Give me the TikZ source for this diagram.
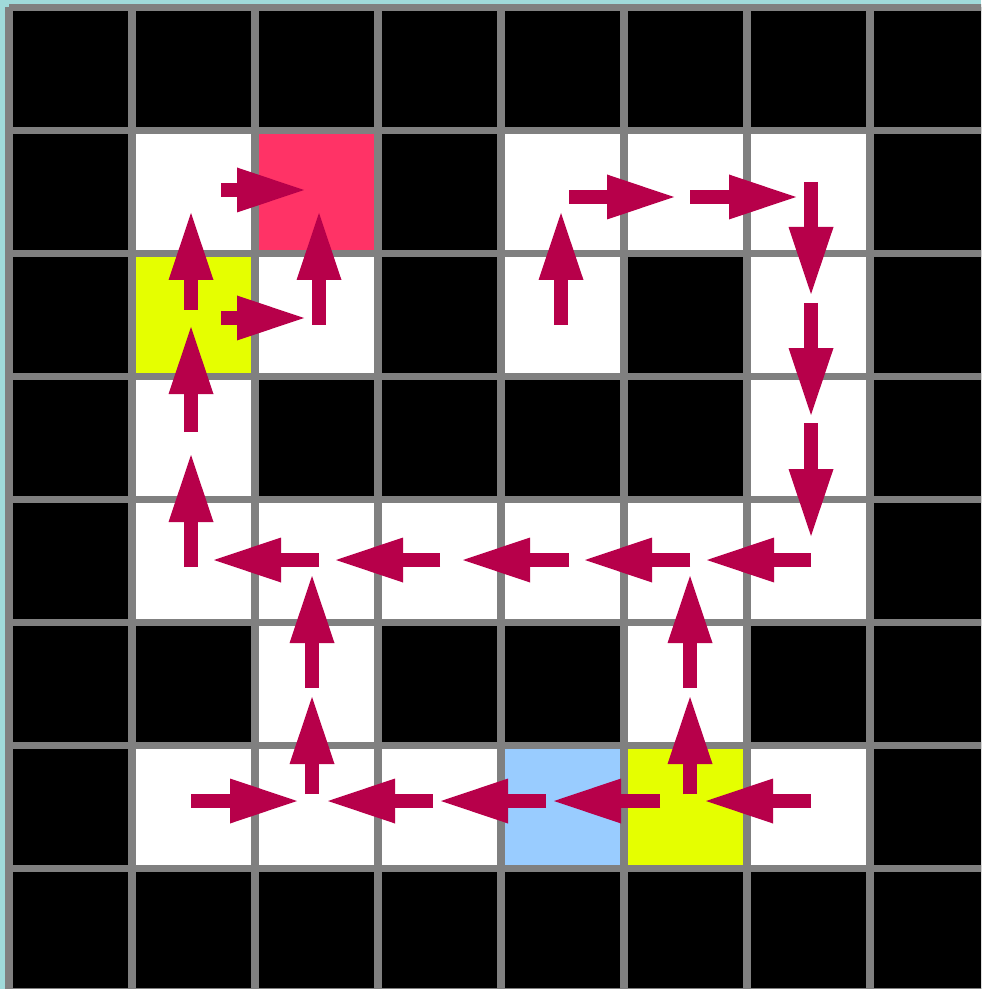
\documentclass[tikz,border=0pt]{standalone}
\usepackage{tikz}
\usetikzlibrary{arrows.meta}
\definecolor{bgteal}{RGB}{160,218,218}
\definecolor{gridgray}{RGB}{128,128,128}
\definecolor{goalred}{RGB}{255,51,102}
\definecolor{keyyellow}{RGB}{229,255,0}
\definecolor{startblue}{RGB}{153,204,255}
\definecolor{policy}{RGB}{183,0,74}

\begin{document}
\begin{tikzpicture}[x=0.5pt,y=-0.5pt,
  pol/.style={policy,line width=7pt,
    -{Triangle[length=33.5pt,width=22.5pt,line width=0pt]}}]
  % Canvas
  \useasboundingbox (0,0) rectangle (981,989);
  \clip (0,0) rectangle (981,989);
  \fill[bgteal] (0,0) rectangle (981,989);

  % Cells and grid
  \begin{scope}[shift={(9,7.5)},x=61.5pt,y=-61.5pt]
    \fill[black] (0,0) rectangle (8,8);
    \foreach \c/\r in {1/1,4/1,5/1,6/1,2/2,4/2,6/2,1/3,6/3,
                       1/4,2/4,3/4,4/4,5/4,6/4,2/5,5/5,1/6,2/6,3/6,6/6}
      \fill[white] (\c,\r) rectangle ++(1,1);
    \fill[goalred] (2,1) rectangle ++(1,1);
    \fill[keyyellow] (1,2) rectangle ++(1,1);
    \fill[keyyellow] (5,6) rectangle ++(1,1);
    \fill[startblue] (4,6) rectangle ++(1,1);
    \foreach \i in {0,...,8} {
      \draw[gridgray,line width=3.75pt] (\i,0) -- (\i,8);
      \draw[gridgray,line width=3.75pt] (0,\i) -- (8,\i);
    }
  \end{scope}

  % Policy arrows (tail / tip)
  \foreach \xa/\ya/\xb/\yb in {
      221/190/304/190, 221/318/304/318, 319/325/319/213,
      191/310/191/213, 191/432/191/327, 191/567/191/455,
      561/325/561/213, 569/197/674/197, 690/197/796/197,
      811/182/811/294, 811/303/811/415, 811/423/811/536,
      811/560/707/560, 690/560/585/560, 569/560/463/560,
      440/560/336/560, 319/560/214/560,
      312/688/312/576, 312/794/312/697,
      690/688/690/576, 690/794/690/697,
      191/801/297/801, 433/801/328/801, 546/801/441/801,
      660/801/554/801, 811/801/706/801}
    \draw[pol] (\xa,\ya) -- (\xb,\yb);
\end{tikzpicture}
\end{document}
